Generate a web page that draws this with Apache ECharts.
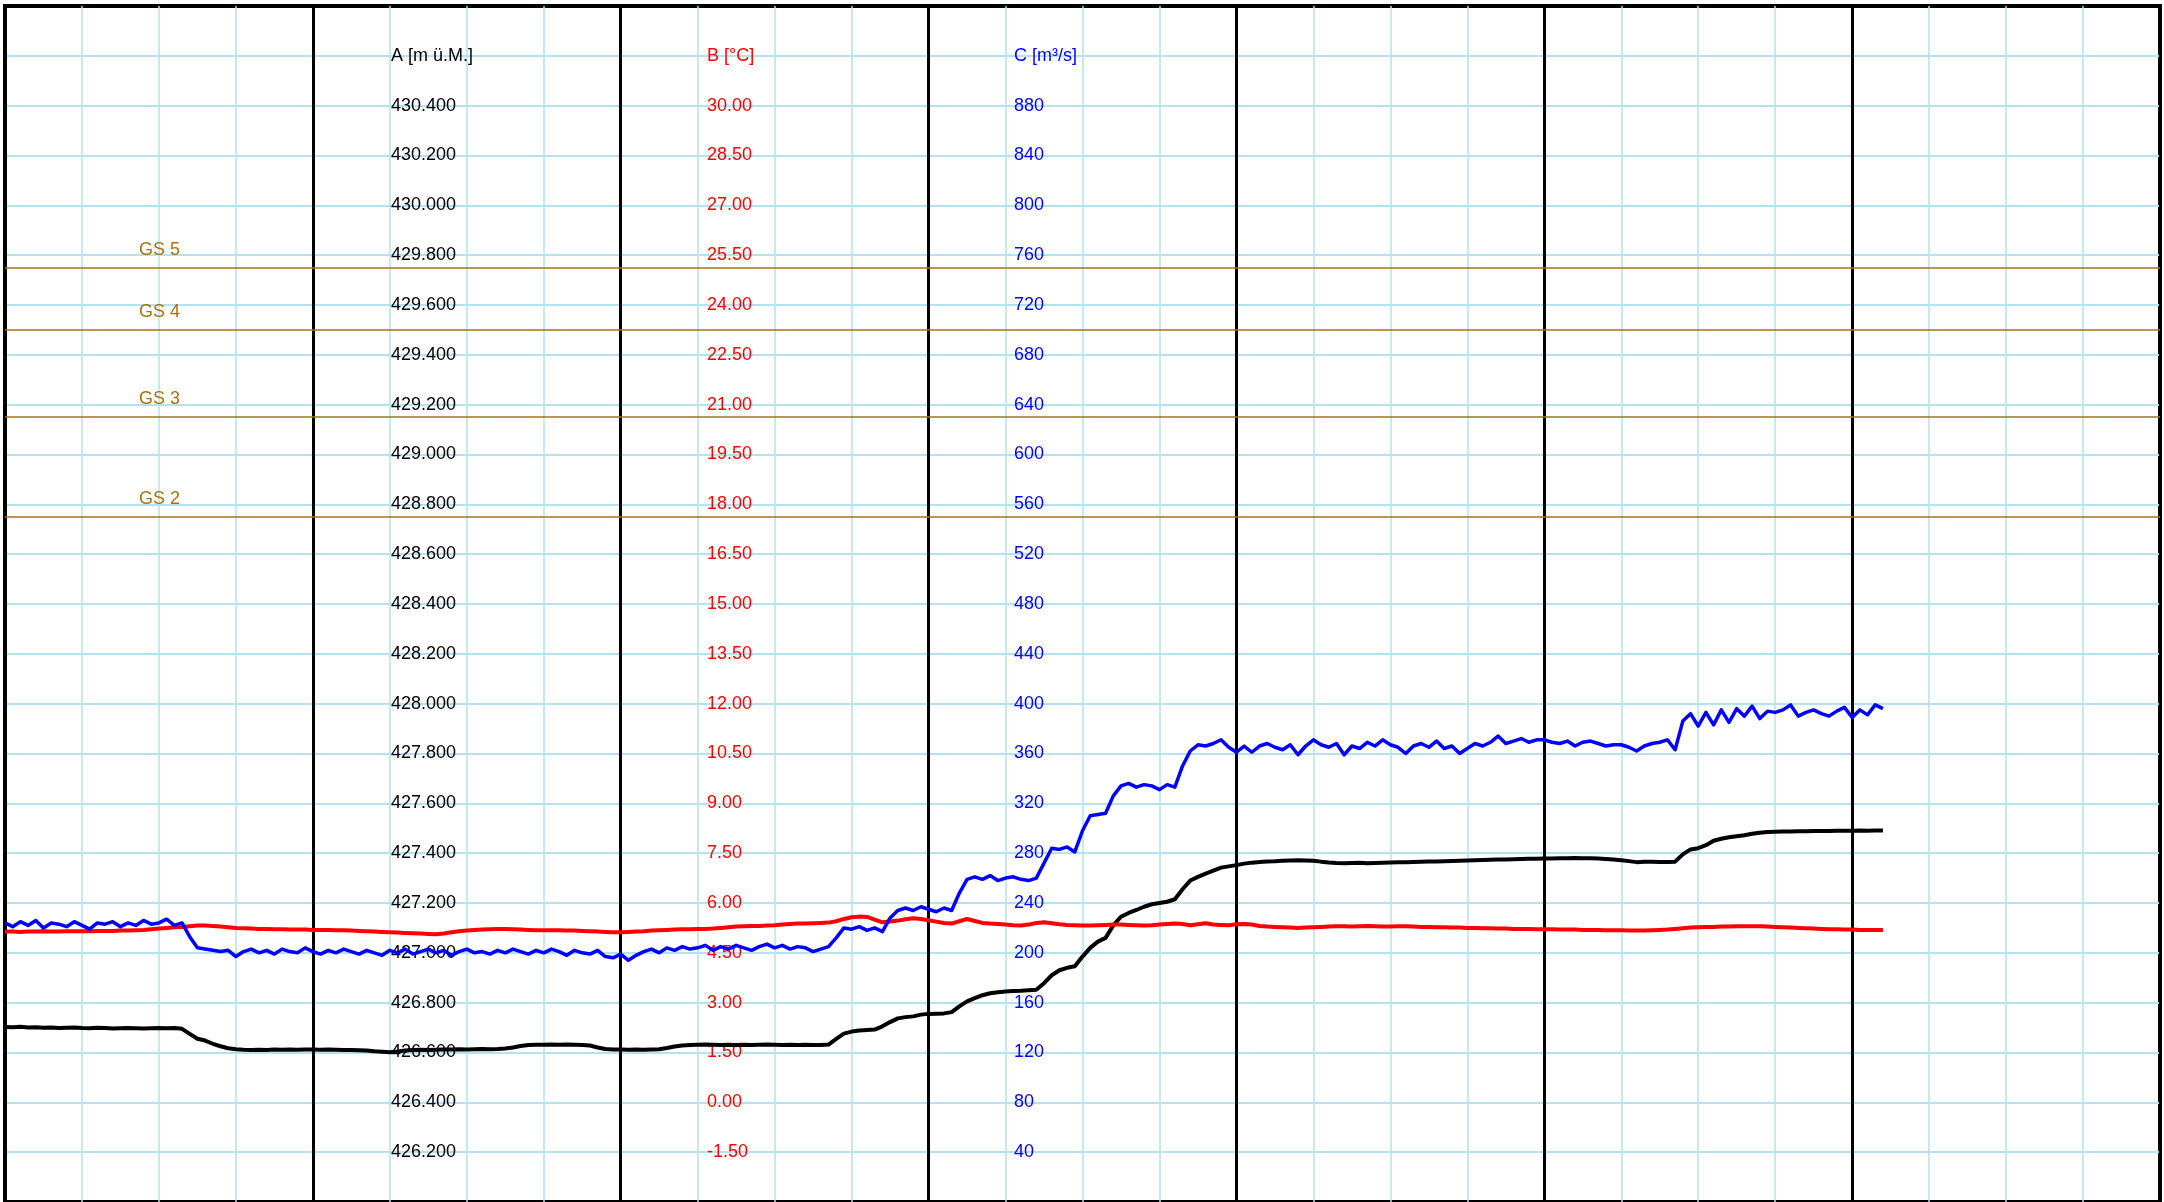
<!DOCTYPE html>
<html>
<head>
<meta charset="utf-8">
<script src="https://cdn.jsdelivr.net/npm/echarts@6/dist/echarts.min.js"></script>
<style>
html,body{margin:0;padding:0;background:#fff;}
#chart{width:2164px;height:1202px;}
</style>
</head>
<body>
<div id="chart"></div>
<script>
// ---- Axis names / tick settings ----
const axisNameA = 'A [m ü.M.]';
const axisNameB = 'B [°C]';
const axisNameC = 'C [m³/s]';

// ---- Threshold levels (A axis) ----
const gsNames  = ['GS 5', 'GS 4', 'GS 3', 'GS 2'];
const gsLevels = [429.75, 429.50, 429.15, 428.75];

// ---- Series A (black, m ü.M.) ----
const seriesA = [
426.702,426.701,426.703,426.700,426.701,426.699,426.700,426.698,426.699,426.700,
426.698,426.697,426.699,426.698,426.696,426.697,426.698,426.697,426.696,426.697,
426.698,426.697,426.698,426.695,426.675,426.655,426.648,426.635,426.625,426.617,
426.613,426.611,426.610,426.611,426.610,426.612,426.611,426.612,426.611,426.612,
426.612,426.611,426.612,426.611,426.610,426.610,426.609,426.608,426.605,426.603,
426.601,426.604,426.608,426.610,426.611,426.610,426.611,426.612,426.612,426.613,
426.612,426.613,426.614,426.613,426.614,426.616,426.620,426.626,426.630,426.631,
426.631,426.632,426.631,426.632,426.631,426.630,426.628,426.620,426.614,426.612,
426.612,426.611,426.612,426.611,426.612,426.613,426.618,426.624,426.628,426.630,
426.631,426.632,426.631,426.630,426.631,426.630,426.631,426.630,426.631,426.632,
426.631,426.630,426.631,426.630,426.631,426.630,426.630,426.632,426.655,426.676,
426.684,426.688,426.690,426.692,426.705,426.722,426.737,426.742,426.745,426.752,
426.755,426.756,426.757,426.762,426.785,426.805,426.818,426.830,426.838,426.842,
426.845,426.847,426.848,426.850,426.852,426.878,426.910,426.930,426.940,426.946,
426.985,427.020,427.045,427.060,427.110,427.145,427.160,427.172,427.185,427.195,
427.200,427.205,427.215,427.255,427.290,427.305,427.318,427.330,427.342,427.347,
427.352,427.358,427.362,427.365,427.367,427.368,427.370,427.371,427.372,427.371,
427.370,427.366,427.363,427.361,427.360,427.361,427.362,427.360,427.361,427.362,
427.363,427.364,427.364,427.365,427.366,427.367,427.367,427.368,427.369,427.370,
427.371,427.372,427.373,427.374,427.375,427.375,427.376,427.377,427.378,427.378,
427.379,427.379,427.380,427.380,427.381,427.380,427.380,427.379,427.377,427.375,
427.372,427.368,427.364,427.366,427.366,427.365,427.365,427.366,427.395,427.415,
427.420,427.432,427.450,427.458,427.464,427.468,427.472,427.478,427.482,427.485,
427.486,427.487,427.487,427.488,427.488,427.489,427.489,427.489,427.490,427.490,
427.490,427.491,427.490,427.491,427.491
];

// ---- Series B (red, °C) ----
const seriesB = [
5.14,5.14,5.13,5.14,5.14,5.15,5.14,5.14,5.15,5.15,
5.15,5.15,5.16,5.16,5.16,5.17,5.17,5.18,5.19,5.21,
5.23,5.25,5.27,5.28,5.30,5.32,5.32,5.31,5.29,5.27,
5.25,5.24,5.23,5.22,5.22,5.21,5.21,5.20,5.20,5.20,
5.19,5.19,5.19,5.18,5.18,5.17,5.16,5.15,5.14,5.13,
5.12,5.11,5.10,5.09,5.08,5.07,5.06,5.08,5.12,5.15,
5.17,5.19,5.20,5.21,5.22,5.22,5.21,5.20,5.19,5.18,
5.18,5.18,5.18,5.17,5.17,5.16,5.15,5.14,5.13,5.12,
5.12,5.13,5.14,5.15,5.17,5.18,5.19,5.20,5.21,5.21,
5.22,5.22,5.23,5.25,5.27,5.29,5.30,5.31,5.31,5.32,
5.33,5.35,5.37,5.38,5.38,5.39,5.40,5.41,5.45,5.52,
5.57,5.59,5.58,5.50,5.42,5.44,5.47,5.51,5.54,5.52,
5.48,5.44,5.40,5.38,5.45,5.52,5.46,5.40,5.38,5.37,
5.35,5.33,5.32,5.35,5.40,5.42,5.39,5.36,5.34,5.33,
5.32,5.32,5.33,5.34,5.35,5.35,5.34,5.33,5.32,5.33,
5.35,5.37,5.38,5.37,5.33,5.36,5.39,5.35,5.34,5.33,
5.36,5.37,5.35,5.31,5.29,5.28,5.27,5.26,5.25,5.26,
5.27,5.28,5.29,5.30,5.30,5.29,5.30,5.31,5.30,5.29,
5.29,5.30,5.30,5.29,5.28,5.28,5.27,5.27,5.26,5.26,
5.25,5.25,5.24,5.24,5.23,5.23,5.22,5.22,5.22,5.21,
5.21,5.21,5.20,5.20,5.20,5.19,5.19,5.19,5.18,5.18,
5.18,5.17,5.17,5.17,5.18,5.19,5.20,5.22,5.24,5.26,
5.27,5.28,5.28,5.29,5.29,5.30,5.30,5.30,5.30,5.29,
5.28,5.27,5.26,5.25,5.24,5.23,5.22,5.21,5.21,5.20,
5.20,5.19,5.19,5.19,5.19
];

// ---- Series C (blue, m³/s) ----
const seriesC = [
224,221,225,222,226,220,224,223,221,225,
222,219,224,223,225,221,224,222,226,223,
224,227,222,224,213,204,203,202,201,202,
197,201,203,200,202,199,203,201,200,204,
201,199,202,200,203,201,199,202,200,198,
202,200,203,199,201,203,200,202,198,201,
203,200,201,199,202,200,203,201,199,202,
200,203,201,198,202,200,199,202,197,196,
199,194,198,201,203,200,204,202,205,203,
204,206,202,205,203,206,204,202,205,207,
204,206,203,205,204,201,203,205,212,220,
219,221,218,220,217,228,234,236,234,237,
235,233,236,234,248,259,261,259,262,258,
260,261,259,258,260,272,284,283,285,281,
298,310,311,312,326,334,336,333,335,334,
331,335,333,350,362,367,366,368,371,365,
361,366,361,366,368,365,363,367,359,366,
371,367,365,368,359,366,364,369,366,371,
367,365,360,366,368,365,370,364,366,360,
364,368,366,369,374,368,370,372,369,371,
371,369,368,370,366,369,370,368,366,367,
367,365,362,366,368,369,371,363,386,392,
382,393,383,395,385,396,390,398,388,394,
393,395,399,390,393,395,392,390,394,397,
389,395,391,399,396
];

// ---- Time axis: 7 major periods, each split into 4, sampled in 10 steps ----
const xMax = 280;

const FONT = 'Liberation Sans, Arial, Helvetica, sans-serif';
const LIGHT = '#b4e2ef';
const BROWN = '#a8720e';

function pairs(arr){ return arr.map((v,i)=>[i,v]); }
function near(a,b){ return Math.abs(a-b) < 1e-6; }

const chart = echarts.init(document.getElementById('chart'), null, {renderer:'canvas'});
chart.setOption({
  animation:false,
  backgroundColor:'#ffffff',
  grid:{left:5, top:6, width:2155, height:1200, show:true, borderColor:'#000', borderWidth:4, backgroundColor:'transparent'},
  xAxis:[
    {type:'value', min:0, max:xMax, interval:10, position:'bottom',
     axisLine:{show:false}, axisTick:{show:false}, axisLabel:{show:false},
     splitLine:{show:true, showMinLine:false, showMaxLine:false, lineStyle:{color:LIGHT, width:1.5}}},
    {type:'value', min:0, max:xMax, interval:40, position:'top', z:1,
     axisLine:{show:false}, axisTick:{show:false}, axisLabel:{show:false},
     splitLine:{show:true, lineStyle:{color:'#000', width:3}}}
  ],
  yAxis:[
    {type:'value', min:426.0, max:430.8, interval:0.2, position:'left', offset:-384,
     axisLine:{show:false}, axisTick:{show:false},
     splitLine:{show:true, showMinLine:false, showMaxLine:false, lineStyle:{color:LIGHT, width:2}},
     axisLabel:{inside:true, margin:2, color:'#000', fontSize:18, fontFamily:FONT,
       showMinLabel:false, showMaxLabel:false, interval:0,
       formatter:function(v){ if(near(v,430.6)) return axisNameA; if(v>430.65||v<426.1) return ''; return v.toFixed(3);} }},
    {type:'value', min:-3, max:33, interval:1.5, position:'left', offset:-692,
     axisLine:{show:false}, axisTick:{show:false}, splitLine:{show:false},
     axisLabel:{inside:true, margin:10, color:'#ff0000', fontSize:18, fontFamily:FONT,
       showMinLabel:false, showMaxLabel:false, interval:0,
       formatter:function(v){ if(near(v,31.5)) return axisNameB; if(v>31.6||v<-2.9) return ''; return v.toFixed(2);} }},
    {type:'value', min:0, max:960, interval:40, position:'left', offset:-1000,
     axisLine:{show:false}, axisTick:{show:false}, splitLine:{show:false},
     axisLabel:{inside:true, margin:9, color:'#0000ff', fontSize:18, fontFamily:FONT,
       showMinLabel:false, showMaxLabel:false, interval:0,
       formatter:function(v){ if(near(v,920)) return axisNameC; if(v>930||v<1) return ''; return String(Math.round(v));} }}
  ],
  series:[
    {name:'A', type:'line', xAxisIndex:0, yAxisIndex:0, data:pairs(seriesA), showSymbol:false, z:3,
     lineStyle:{color:'#000', width:4, join:'round'},
     markLine:{silent:true, symbol:'none', animation:false,
       lineStyle:{color:BROWN, width:1.5, type:'solid'},
       label:{show:true, position:'insideStartTop', distance:[134,9], color:BROWN, fontSize:18, fontFamily:FONT, formatter:'{b}'},
       emphasis:{disabled:true},
       data:gsLevels.map((v,i)=>({name:gsNames[i], yAxis:v}))}},
    {name:'B', type:'line', xAxisIndex:0, yAxisIndex:1, data:pairs(seriesB), showSymbol:false, z:3,
     lineStyle:{color:'#ff0000', width:4, join:'round'}},
    {name:'C', type:'line', xAxisIndex:0, yAxisIndex:2, data:pairs(seriesC), showSymbol:false, z:3,
     lineStyle:{color:'#0000ff', width:3.5, join:'round'}}
  ]
});
</script>
</body>
</html>
